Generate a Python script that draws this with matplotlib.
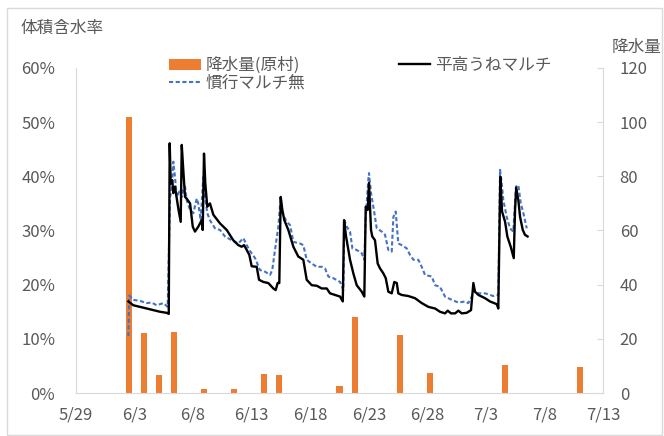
import matplotlib
matplotlib.use("Agg")
import matplotlib.pyplot as plt
from matplotlib.patches import Rectangle

plt.rcParams['font.family'] = ['Noto Sans CJK JP', 'DejaVu Sans']

# days since 5/29 and volumetric water content (%)
t_hirataka = [4.47, 4.89, 5.47, 6.04, 6.60, 7.17, 7.75, 7.92, 8.00, 8.09, 8.22, 8.31, 8.45,
              8.74, 8.94, 9.03, 9.16, 9.31, 9.45, 9.74, 9.97, 10.16, 10.44, 10.73, 10.82,
              10.93, 11.04, 11.21, 11.44, 11.73, 12.30, 12.87, 13.43, 13.86, 14.15, 14.35,
              14.58, 14.80, 15.00, 15.43, 15.63, 16.00, 16.42, 16.85, 17.05, 17.22, 17.36,
              17.48, 17.62, 17.79, 18.13, 18.56, 18.98, 19.41, 19.70, 20.13, 20.56, 20.98,
              21.41, 21.69, 22.12, 22.55, 22.78, 22.89, 23.06, 23.40, 23.68, 23.97, 24.40,
              24.62, 24.74, 24.91, 25.02, 25.19, 25.30, 25.53, 25.76, 25.96, 26.24, 26.45,
              26.67, 26.96, 27.18, 27.39, 27.52, 27.81, 28.38, 28.95, 29.52, 30.09, 30.66,
              31.08, 31.51, 31.74, 32.02, 32.37, 32.65, 32.94, 33.36, 33.73, 33.93, 34.07,
              34.36, 34.93, 35.35, 35.93, 36.06, 36.23, 36.38, 36.64, 36.83, 37.12, 37.38,
              37.49, 37.59, 37.77, 37.92, 38.15, 38.34, 38.56]
vwc_hirataka = [16.9, 16.2, 15.9, 15.6, 15.3, 15.0, 14.8, 14.6, 46.1, 38.7, 39.3, 36.9, 38.1,
                34.0, 31.6, 45.8, 41.2, 36.2, 35.9, 35.0, 30.7, 29.8, 30.7, 31.9, 30.1,
                44.2, 38.7, 34.4, 35.0, 32.9, 31.3, 30.1, 28.2, 27.3, 27.0, 27.3,
                26.4, 25.5, 23.4, 23.3, 20.9, 20.5, 20.3, 19.3, 19.0, 20.3, 20.3,
                36.2, 33.8, 31.9, 30.1, 27.0, 25.2, 24.6, 20.9, 19.9, 19.8, 19.3,
                19.3, 18.4, 18.1, 17.8, 16.9, 31.9, 28.9, 24.6, 22.1, 19.9, 18.7,
                17.8, 34.4, 33.8, 38.8, 30.1, 28.9, 28.2, 23.9, 23.0, 22.1, 21.2,
                18.7, 18.4, 20.5, 20.3, 18.4, 18.1, 17.9, 17.5, 16.6, 15.9, 15.6,
                15.0, 14.7, 15.2, 14.7, 14.7, 15.2, 14.7, 14.8, 15.3, 20.3, 18.7,
                18.1, 17.5, 16.9, 16.4, 15.6, 39.9, 33.5, 31.6, 28.9, 27.0, 24.9,
                33.8, 37.9, 35.6, 32.5, 30.1, 29.2, 28.9]

t_kanko = [4.47, 4.55, 4.89, 5.47, 6.04, 6.46, 6.89, 7.46, 7.83, 8.03, 8.17, 8.31, 8.45,
           8.60, 8.82, 9.03, 9.16, 9.31, 9.45, 9.74, 10.02, 10.31, 10.44, 10.65, 10.87,
           11.02, 11.21, 11.44, 11.87, 12.30, 12.72, 13.30, 13.86, 14.29, 14.58, 14.80,
           15.29, 15.71, 16.14, 16.57, 16.76, 16.99, 17.28, 17.48, 17.62, 17.99, 18.28,
           18.56, 19.13, 19.41, 19.70, 20.13, 20.56, 20.98, 21.26, 21.55, 21.97, 22.55,
           22.83, 22.91, 23.12, 23.40, 23.60, 23.97, 24.40, 24.62, 24.74, 24.96, 25.02,
           25.19, 25.39, 25.68, 26.11, 26.39, 26.67, 26.96, 27.10, 27.30, 27.52, 27.81,
           28.24, 28.52, 28.81, 29.23, 29.52, 29.80, 30.38, 30.66, 31.08, 31.51, 32.08,
           32.65, 33.22, 33.50, 33.73, 34.02, 34.36, 34.93, 35.64, 36.06, 36.21, 36.35,
           36.49, 36.78, 37.06, 37.34, 37.57, 37.77, 37.98, 38.20, 38.49]
vwc_kanko = [10.5, 18.0, 17.2, 17.0, 16.6, 16.7, 16.2, 16.6, 15.9, 36.2, 37.5, 42.7, 39.9,
             36.2, 37.2, 36.2, 37.5, 38.1, 35.6, 33.8, 33.2, 35.9, 35.0, 31.9, 39.9,
             36.2, 33.2, 31.9, 30.4, 30.1, 28.9, 28.2, 27.6, 28.6, 27.3, 26.4,
             24.9, 22.7, 22.4, 21.8, 22.7, 26.4, 30.7, 36.2, 33.2, 31.6, 31.0,
             27.9, 27.6, 27.3, 24.6, 23.9, 23.3, 23.3, 23.0, 21.5, 21.2, 20.5,
             19.0, 31.9, 30.7, 29.8, 26.7, 26.4, 25.8, 24.6, 32.5, 39.3, 40.6,
             36.9, 34.4, 30.4, 29.8, 29.2, 26.4, 26.1, 32.5, 33.5, 27.6, 27.3,
             26.7, 25.5, 24.6, 24.6, 23.3, 21.8, 21.5, 19.9, 19.6, 17.8, 17.2,
             16.7, 16.9, 16.6, 17.5, 19.0, 18.4, 18.4, 17.9, 18.1, 41.2, 38.7,
             35.6, 32.5, 30.4, 29.8, 38.1, 38.4, 35.0, 33.2, 30.4]

# daily rainfall (mm), plotted on its own category axis
rain_mm = [0, 0, 0, 102, 22, 6.5, 22.5, 0, 1.5, 0, 1.5, 0, 7, 6.5, 0, 0, 0, 2.5, 28, 0,
           0, 21.5, 0, 7.5, 0, 0, 0, 0, 10.5, 0, 0, 0, 0, 9.5, 0]

tick_days = [0, 5, 10, 15, 20, 25, 30, 35, 40, 45]
tick_labels = ['5/29', '6/3', '6/8', '6/13', '6/18', '6/23', '6/28', '7/3', '7/8', '7/13']

W, H = 664, 436
fig = plt.figure(figsize=(W / 100, H / 100), dpi=100)
fig.patches.append(Rectangle((7 / W, 1 / H), 655 / W, 1 - 9 / H, transform=fig.transFigure,
                             fill=False, edgecolor='#d9d9d9', linewidth=1))

pos = [76 / W, 1 - 393 / H, (603 - 76) / W, (393 - 68) / H]
grey = '#d9d9d9'
txt = '#595959'

ax_bar = fig.add_axes(pos, zorder=1)
ax_bar.bar(range(len(rain_mm)), rain_mm, width=0.4, color='#ED7D31', label='降水量(原村)')
ax_bar.set_xlim(-0.5, len(rain_mm) - 0.5)
ax_bar.set_ylim(0, 120)
ax_bar.set_yticks(range(0, 121, 20))
ax_bar.yaxis.tick_right()
ax_bar.tick_params(axis='y', direction='in', length=4, color=grey, labelsize=12,
                   labelcolor=txt, pad=12)
ax_bar.set_xticks([])
for s in ['top', 'left', 'bottom']:
    ax_bar.spines[s].set_visible(False)
ax_bar.spines['right'].set_color(grey)

ax = fig.add_axes(pos, zorder=2)
ax.patch.set_visible(False)
ax.plot(t_kanko, vwc_kanko, color='#4472C4', lw=1.5, dashes=(2, 1.2), label='慣行マルチ無')
ax.plot(t_hirataka, vwc_hirataka, color='black', lw=1.7, label='平高うねマルチ')
ax.set_xlim(0, 45)
ax.set_ylim(0, 60)
ax.set_yticks(range(0, 61, 10))
ax.set_yticklabels([f'{v}%' for v in range(0, 61, 10)])
ax.set_xticks(tick_days)
ax.set_xticklabels(tick_labels)
ax.tick_params(axis='both', length=0, labelsize=12, labelcolor=txt)
ax.tick_params(axis='y', pad=15)
ax.tick_params(axis='x', pad=10)
for s in ['top', 'right']:
    ax.spines[s].set_visible(False)
for s in ['left', 'bottom']:
    ax.spines[s].set_color(grey)

h_bar, l_bar = ax_bar.get_legend_handles_labels()
h_ln, l_ln = ax.get_legend_handles_labels()
fig.legend([h_bar[0], h_ln[0], h_ln[1]], [l_bar[0], l_ln[0], l_ln[1]], ncol=2,
           loc='upper left', bbox_to_anchor=(169 / W, 1 - 57 / H), frameon=False,
           fontsize=12, handlelength=1.9, handletextpad=0.3, columnspacing=5.6,
           labelspacing=0.05, borderpad=0, borderaxespad=0, labelcolor=txt)

fig.text(20 / W, 1 - 28 / H, '体積含水率', fontsize=12, color=txt, va='center')
fig.text(637 / W, 1 - 47 / H, '降水量', fontsize=12, color=txt, va='center', ha='center')

fig.savefig('out.png', dpi=100)
